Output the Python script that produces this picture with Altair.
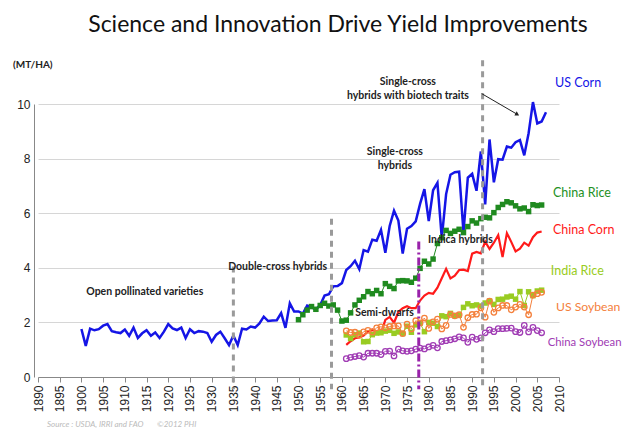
import altair as alt
import pandas as pd

# ---------------- data (MT/HA) ----------------
us_corn_years = list(range(1900, 2008))
us_corn = [1.76, 1.14, 1.77, 1.71, 1.75, 1.88, 1.94, 1.68, 1.64, 1.61,
           1.74, 1.51, 1.81, 1.43, 1.60, 1.71, 1.51, 1.63, 1.43, 1.66,
           1.94, 1.78, 1.72, 1.81, 1.43, 1.75, 1.61, 1.68, 1.66, 1.61,
           1.29, 1.54, 1.66, 1.42, 1.17, 1.52, 1.17, 1.77, 1.74, 1.85,
           1.81, 1.96, 2.21, 2.05, 2.07, 2.08, 2.34, 1.80, 2.70, 2.40,
           2.40, 2.32, 2.62, 2.56, 2.47, 2.64, 2.98, 3.03, 3.32, 3.33,
           3.44, 3.92, 4.06, 4.26, 3.95, 4.65, 4.59, 5.03, 4.99, 5.39,
           4.55, 5.53, 6.09, 5.73, 4.52, 5.43, 5.53, 5.70, 6.34, 6.88,
           5.71, 6.84, 7.11, 5.09, 6.70, 7.41, 7.50, 7.52, 5.31, 7.30,
           7.44, 6.82, 8.26, 6.32, 8.70, 7.13, 7.98, 7.96, 8.44, 8.40,
           8.60, 8.68, 8.12, 8.93, 10.07, 9.29, 9.36, 9.70]

china_rice_years = list(range(1950, 2007))
china_rice = [2.10, 2.28, 2.45, 2.58, 2.48, 2.62, 2.70, 2.60, 2.64, 2.45,
              2.05, 2.08, 2.35, 2.64, 2.81, 2.94, 3.13, 3.05, 3.17, 3.05,
              3.42, 3.32, 3.24, 3.52, 3.53, 3.52, 3.47, 3.62, 3.98, 4.24,
              4.14, 4.32, 4.89, 5.10, 5.37, 5.26, 5.34, 5.41, 5.29, 5.51,
              5.72, 5.64, 5.80, 5.85, 5.83, 6.02, 6.21, 6.32, 6.42, 6.38,
              6.27, 6.16, 6.19, 6.06, 6.31, 6.28, 6.30]

late_years = list(range(1961, 2007))
china_corn = [1.18, 1.31, 1.42, 1.45, 1.52, 1.67, 1.74, 1.64, 1.60, 2.09,
              2.20, 1.99, 2.38, 2.52, 2.59, 2.52, 2.52, 2.80, 2.98, 3.08,
              3.05, 3.27, 3.62, 3.96, 3.61, 3.71, 3.92, 3.93, 3.88, 4.52,
              4.58, 4.53, 4.96, 4.69, 4.92, 5.20, 4.39, 5.27, 4.95, 4.60,
              4.70, 4.92, 4.81, 5.12, 5.29, 5.33]

india_rice = [1.54, 1.41, 1.55, 1.61, 1.29, 1.30, 1.55, 1.61, 1.62, 1.68,
              1.71, 1.60, 1.65, 1.59, 1.86, 1.64, 1.91, 1.97, 1.66, 2.00,
              1.97, 1.85, 2.24, 2.21, 2.33, 2.24, 2.26, 2.55, 2.68, 2.61,
              2.64, 2.60, 2.71, 2.78, 2.66, 2.84, 2.85, 2.93, 2.96, 2.85,
              3.13, 2.62, 3.12, 2.98, 3.15, 3.18]

us_soybean = [1.69, 1.63, 1.64, 1.53, 1.65, 1.71, 1.65, 1.80, 1.84, 1.80,
              1.85, 1.87, 1.87, 1.59, 1.94, 1.76, 2.06, 1.98, 2.16, 1.78,
              2.02, 2.12, 1.76, 1.89, 2.29, 2.24, 2.28, 1.82, 2.17, 2.29,
              2.30, 2.53, 2.19, 2.78, 2.37, 2.53, 2.62, 2.62, 2.46, 2.56,
              2.66, 2.56, 2.28, 3.00, 3.05, 3.10]

china_soybean = [0.67, 0.72, 0.75, 0.78, 0.73, 0.87, 0.87, 0.87, 0.82, 0.94,
                 0.95, 0.77, 1.02, 0.96, 0.94, 0.96, 1.02, 1.06, 1.03, 1.10,
                 1.16, 1.07, 1.30, 1.33, 1.36, 1.40, 1.47, 1.43, 1.27, 1.46,
                 1.38, 1.43, 1.62, 1.73, 1.66, 1.77, 1.77, 1.78, 1.79, 1.66,
                 1.63, 1.89, 1.65, 1.82, 1.70, 1.62]

# era divider lines: year, top, bottom
gray_rule_years = [1935, 1957.6, 1992.4]
gray_rule_tops = [4.05, 5.8, 11.6]
purple_rule_years = [1977.7]
purple_rule_tops = [4.96]
rule_bottom = -0.45

# annotations (centred text)
note_texts = ["Single-cross", "hybrids with biotech traits", "Single-cross", "hybrids",
              "Double-cross hybrids", "Indica hybrids", "Open pollinated varieties",
              "Semi-dwarfs"]
note_years = [1975.2, 1975.2, 1972.2, 1972.2, 1945.2, 1987.3, 1914.6, 1969.8]
note_values = [10.79, 10.30, 8.23, 7.74, 4.03, 5.02, 3.10, 2.36]

# series labels (left aligned)
label_texts = ["US Corn", "China Rice", "China Corn", "India Rice", "US Soybean", "China Soybean"]
label_years = [2009.1, 2008.6, 2008.6, 2008.1, 2009.3, 2007.4]
label_values = [10.76, 6.75, 5.38, 3.89, 2.58, 1.26]
label_sizes = [12.5, 12.5, 12.5, 12.5, 12.2, 11.3]
label_colors = ["#1515e6", "#239023", "#ff1a1a", "#99cc22", "#f4803c", "#a03cb4"]

arrow_years = [1992.2, 2000.4]
arrow_values = [10.38, 9.62]

# ---------------- chart ----------------
xs = alt.Scale(domain=[1890, 2010], nice=False, zero=False)
ys = alt.Scale(domain=[0, 10], nice=False, zero=False)

xaxis = alt.Axis(values=list(range(1890, 2011, 5)), format="d", labelAngle=270,
                 tickSize=5, labelPadding=3, labelFontSize=12, labelFont="Liberation Sans",
                 labelColor="#222", domainColor="#888", tickColor="#888", grid=False,
                 title=None, labelOverlap=False, labelFlush=False)
yaxis = alt.Axis(values=[0, 2, 4, 6, 8, 10], grid=True, gridColor="#d6d6d6", domainColor="#888",
                 ticks=False, labelPadding=4, offset=4, title=None, labelFontSize=12,
                 labelFont="Liberation Sans", labelColor="#222")

X = alt.X("year:Q", scale=xs, axis=xaxis)
Y = alt.Y("value:Q", scale=ys, axis=yaxis)


def series_df(years, vals):
    return pd.DataFrame({"year": years, "value": vals})


corn_line = alt.Chart(series_df(us_corn_years, us_corn)).mark_line(
    color="#1515e6", strokeWidth=2.5).encode(x=X, y=Y)

def marker_series(years, vals, color, shape, filled, size=28):
    df = series_df(years, vals)
    line = alt.Chart(df).mark_line(color=color, strokeWidth=1).encode(x=X, y=Y)
    if filled:
        pts = alt.Chart(df).mark_point(shape=shape, filled=True, color=color, size=size,
                                       opacity=1).encode(x=X, y=Y)
    else:
        pts = alt.Chart(df).mark_point(shape=shape, filled=False, color=color, size=size,
                                       strokeWidth=1.3, opacity=1).encode(x=X, y=Y)
    return line + pts

rice_c = marker_series(china_rice_years, china_rice, "#1f8a1f", "square", True, 30)
rice_i = marker_series(late_years, india_rice, "#99cc22", "square", True, 30)
soy_us = marker_series(late_years, us_soybean, "#f4803c", "circle", False, 30)
soy_c = marker_series(late_years, china_soybean, "#a03cb4", "circle", False, 30)
corn_c = alt.Chart(series_df(late_years, china_corn)).mark_line(
    color="#ff1a1a", strokeWidth=2.2).encode(x=X, y=Y)

gray_rules = alt.Chart(pd.DataFrame({"year": gray_rule_years, "value": gray_rule_tops,
                                     "value2": [rule_bottom] * len(gray_rule_years)})).mark_rule(
    color="#9a9a9a", strokeWidth=3, strokeDash=[6, 5]).encode(x=X, y=Y, y2="value2:Q")
purple_rules = alt.Chart(pd.DataFrame({"year": purple_rule_years, "value": purple_rule_tops,
                                       "value2": [rule_bottom] * len(purple_rule_years)})).mark_rule(
    color="#9922aa", strokeWidth=3, strokeDash=[8, 3, 2, 3]).encode(x=X, y=Y, y2="value2:Q")

notes = alt.Chart(pd.DataFrame({"year": note_years, "value": note_values, "t": note_texts})).mark_text(
    font="Lato", fontWeight="bold", fontSize=10.5, color="#222", align="center",
    baseline="middle").encode(x=X, y=Y, text="t:N")

labels = alt.Chart(pd.DataFrame({"year": label_years, "value": label_values, "s": label_sizes,
                                 "t": label_texts, "c": label_colors})).mark_text(
    font="Lato", align="left", baseline="middle").encode(
    x=X, y=Y, text="t:N", color=alt.Color("c:N", scale=None),
    size=alt.Size("s:Q", scale=None, legend=None))

arrow_df = pd.DataFrame({"year": [arrow_years[0]], "value": [arrow_values[0]],
                         "year2": [arrow_years[1]], "value2": [arrow_values[1]]})
arrow = alt.Chart(arrow_df).mark_rule(color="#222", strokeWidth=1).encode(
    x=X, y=Y, x2="year2:Q", y2="value2:Q")
arrow_head = alt.Chart(pd.DataFrame({"year": [arrow_years[1]], "value": [arrow_values[1]]})).mark_point(
    shape="triangle-right", angle=30, filled=True, color="#222", size=22, opacity=1).encode(x=X, y=Y)

title = alt.Chart(pd.DataFrame({"t": ["Science and Innovation Drive Yield Improvements"]})).mark_text(
    font="Lato", fontSize=23, color="#111", align="center", baseline="alphabetic").encode(
    text="t:N", x=alt.value(300), y=alt.value(-72))

unit = alt.Chart(pd.DataFrame({"t": ["(MT/HA)"]})).mark_text(
    font="Lato", fontWeight="bold", fontSize=10, color="#222", align="left", baseline="middle").encode(
    text="t:N", x=alt.value(-25), y=alt.value(-39))

source = alt.Chart(pd.DataFrame({"t": ["Source : USDA, IRRI and FAO", "\u00a92012 PHI"],
                                 "px": [9, 119]})).mark_text(
    font="Lato", fontStyle="italic", fontSize=8, color="#bbbbbb", align="left", baseline="middle").encode(
    text="t:N", x=alt.X("px:Q", scale=None), y=alt.value(321))

chart = alt.layer(
    corn_line, rice_c, corn_c, rice_i, soy_us, soy_c,
    gray_rules, purple_rules, notes, labels, arrow, arrow_head, title, unit, source
).properties(
    width=521, height=273,
    autosize=alt.AutoSizeParams(type="none"),
    padding={"left": 30, "top": 96, "right": 65, "bottom": 53},
    background="white",
).configure_view(stroke=None)

chart.save("out.html", embed_options={"renderer": "svg", "actions": False})
